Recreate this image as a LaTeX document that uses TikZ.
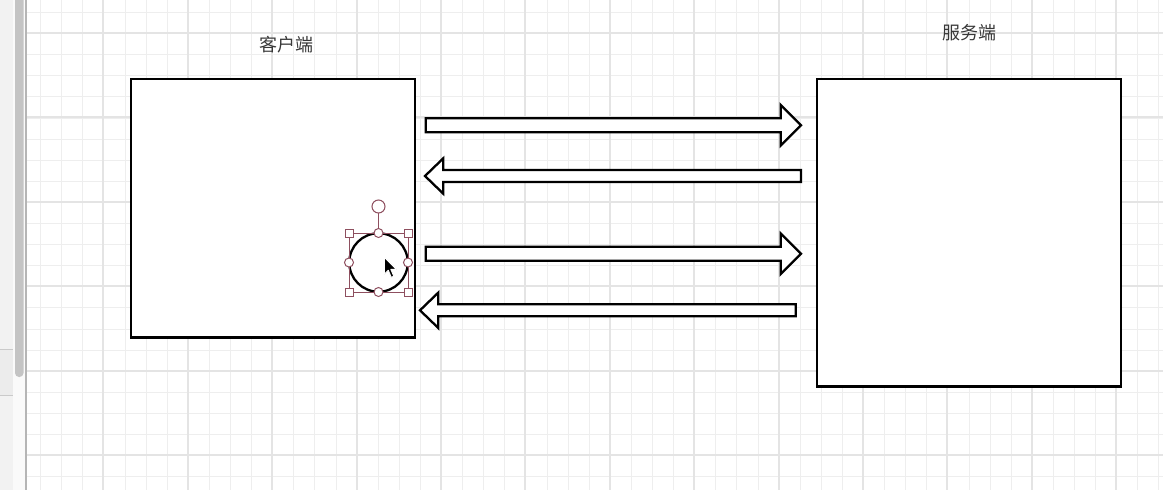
\documentclass[tikz,border=0pt]{standalone}
\usepackage{fontspec}
\newfontfamily\cjk{Noto Sans CJK SC}
\definecolor{gridminor}{HTML}{EEEEEE}
\definecolor{gridmajor}{HTML}{E4E4E4}
\definecolor{handle}{HTML}{8E4F5F}
\definecolor{labeltext}{HTML}{383838}
\definecolor{sidebar}{HTML}{F2F2F2}
\definecolor{sidebarmid}{HTML}{FAFAFA}
\definecolor{sidebarband}{HTML}{ECECEC}
\definecolor{sidebarline}{HTML}{CACACA}
\definecolor{divider}{HTML}{B5B5B5}
\definecolor{scrollbar}{HTML}{C4C4C4}
\tikzset{
  box/.style={draw=black, line width=2.3pt, fill=white, inner sep=0pt, outer sep=0pt},
  blockarrow/.style={draw=black, line width=2.3pt, fill=white, line join=miter},
  lbl/.style={font=\cjk\fontsize{18}{21}\selectfont, text=labeltext, inner sep=0pt},
  hsq/.style={draw=handle, fill=white, line width=1pt, minimum size=8pt, inner sep=0pt, rectangle},
  hci/.style={draw=handle, fill=white, line width=1pt, minimum size=9pt, inner sep=0pt, circle},
  minorline/.style={draw=gridminor, line width=1pt},
  majorline/.style={draw=gridmajor, line width=1.3pt}
}
\begin{document}
\begin{tikzpicture}[x=1pt,y=-1pt]
\useasboundingbox (0,0) rectangle (1163,490);
\fill[white] (0,0) rectangle (1163,490);
% grid
\foreach \i in {1,...,54} {\draw[minorline] ({round(19+21.1*\i)},0) -- ({round(19+21.1*\i)},490);}
\foreach \i in {0,...,23} {\draw[minorline] (27,{round(12+21.1*\i)}) -- (1163,{round(12+21.1*\i)});}
\foreach \i in {1,...,13} {\draw[majorline] ({round(19+84.4*\i)},0) -- ({round(19+84.4*\i)},490);}
\foreach \i in {0,...,5} {\draw[majorline] (27,{round(33+84.4*\i)}) -- (1163,{round(33+84.4*\i)});}
% sidebar
\fill[sidebar] (0,0) rectangle (13,490);
\fill[sidebarmid] (13,0) rectangle (26,490);
\fill[sidebarband] (0,349) rectangle (13,395);
\draw[sidebarline, line width=0.8pt] (0,349) -- (13,349);
\draw[sidebarline, line width=0.8pt] (0,395) -- (13,395);
\fill[scrollbar, rounded corners=4pt] (15,-6) rectangle (23.5,377);
\draw[divider, line width=1.2pt] (26,0) -- (26,490);
% boxes
\node[box, minimum width=284pt, minimum height=258.5pt] (client) at (273,208.25) {};
\node[box, minimum width=304pt, minimum height=307.5pt] (server) at (969,232.75) {};
\node[lbl] (clientlabel) at (286,45) {客户端};
\node[lbl] (serverlabel) at (969,33) {服务端};
% block arrows
\draw[blockarrow] (425.7,118.3) -- (780.7,118.3) -- (780.7,105) -- (801,125.3) -- (780.7,145.6) -- (780.7,132.3) -- (425.7,132.3) -- cycle;
\draw[blockarrow] (801,170) -- (443.3,170) -- (443.3,158.3) -- (425,176) -- (443.3,193.7) -- (443.3,182) -- (801,182) -- cycle;
\draw[blockarrow] (425.7,246.7) -- (780.7,246.7) -- (780.7,233.4) -- (801,253.7) -- (780.7,274) -- (780.7,260.7) -- (425.7,260.7) -- cycle;
\draw[blockarrow] (795.7,304.3) -- (438.3,304.3) -- (438.3,292.6) -- (420,310.3) -- (438.3,328) -- (438.3,316.3) -- (795.7,316.3) -- cycle;
% selected circle
\node[draw=black, line width=2.3pt, circle, minimum size=58.5pt, inner sep=0pt] (dot) at (378.5,262.5) {};
\draw[handle, line width=0.9pt] (349,233) rectangle (408,292);
\coordinate (rot) at (378.5,206.5);
\draw[handle, line width=1pt] (rot) -- (378.5,233);
\node[hci, minimum size=13pt] (rothandle) at (rot) {};
\foreach \p in {(349,233),(408,233),(349,292),(408,292)} {\node[hsq] at \p {};}
\foreach \p in {(378.5,233),(378.5,292),(349,262.5),(408,262.5)} {\node[hci] at \p {};}
% mouse cursor
\draw[white, fill=black, line width=0.9pt, line join=round] (384.3,257.3) -- (384.3,274.3) -- (388.3,270.3) -- (391.3,277.3) -- (393.8,276.3) -- (390.8,269.3) -- (396.3,269.3) -- cycle;
\end{tikzpicture}
\end{document}
